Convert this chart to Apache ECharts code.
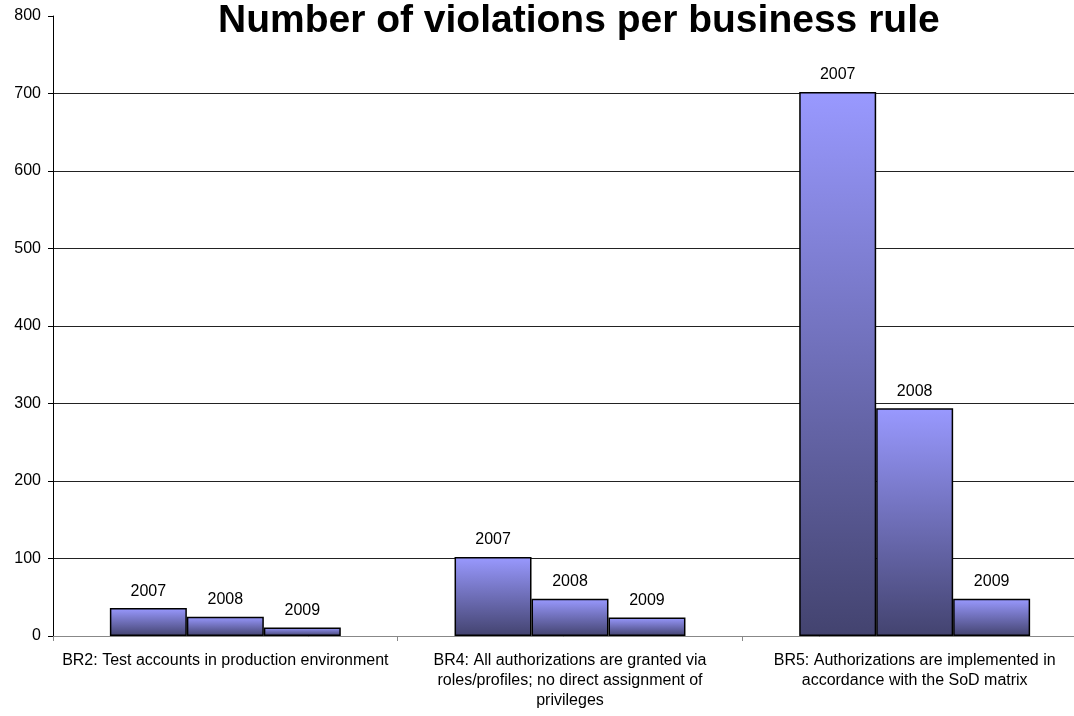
<!DOCTYPE html>
<html>
<head>
<meta charset="utf-8">
<script src="https://cdn.jsdelivr.net/npm/echarts@6/dist/echarts.min.js"></script>
<style>
html,body{margin:0;padding:0;background:#fff;overflow:hidden;}
#chart{width:1074px;height:716px;}
</style>
</head>
<body>
<div id="chart"></div>
<script>
const titleText = 'Number of violations per business rule';
const categories = [
  'BR2: Test accounts in production environment',
  'BR4: All authorizations are granted via\nroles/profiles; no direct assignment of\nprivileges',
  'BR5: Authorizations are implemented in\naccordance with the SoD matrix'
];
const years = ['2007', '2008', '2009'];
const values2007 = [36, 102, 702];
const values2008 = [25, 48, 294];
const values2009 = [11, 24, 48];
const yTicks = [0, 100, 200, 300, 400, 500, 600, 700, 800];

const seriesValues = [values2007, values2008, values2009];
const font = 'Arial, "Liberation Sans", sans-serif';

const chart = echarts.init(document.getElementById('chart'), null, {renderer: 'canvas'});
chart.setOption({
  animation: false,
  backgroundColor: '#fff',
  title: {
    text: titleText,
    left: 213,
    top: -3,
    textStyle: {fontFamily: font, fontSize: 39, fontWeight: 'bold', color: '#000'}
  },
  grid: {left: 53, width: 1034, top: 16, bottom: 80, containLabel: false, outerBoundsMode: 'none'},
  xAxis: {
    type: 'category',
    data: categories,
    axisLine: {lineStyle: {color: '#888', width: 1}},
    axisTick: {show: true, length: 5, inside: false, lineStyle: {color: '#888'}},
    axisLabel: {fontFamily: font, fontSize: 16, color: '#000', lineHeight: 20, margin: 15, interval: 0}
  },
  yAxis: {
    type: 'value',
    min: yTicks[0],
    max: yTicks[yTicks.length - 1],
    interval: 100,
    axisLine: {show: true, lineStyle: {color: '#000', width: 1}},
    axisTick: {show: true, length: 5, lineStyle: {color: '#000'}},
    axisLabel: {fontFamily: font, fontSize: 16, color: '#000', margin: 12},
    splitLine: {show: true, showMaxLine: false, lineStyle: {color: '#222', width: 1}}
  },
  series: years.map((y, i) => ({
    name: y,
    type: 'bar',
    data: seriesValues[i],
    barGap: '0%',
    barCategoryGap: '33%',
    itemStyle: {
      borderColor: '#000',
      borderWidth: 1.5,
      color: new echarts.graphic.LinearGradient(0, 0, 0, 1, [
        {offset: 0, color: '#9999FF'},
        {offset: 1, color: '#43436f'}
      ])
    },
    label: {
      show: true,
      position: 'top',
      distance: 9,
      formatter: '{a}',
      fontFamily: font,
      fontSize: 16,
      color: '#000'
    }
  }))
});
</script>
</body>
</html>
